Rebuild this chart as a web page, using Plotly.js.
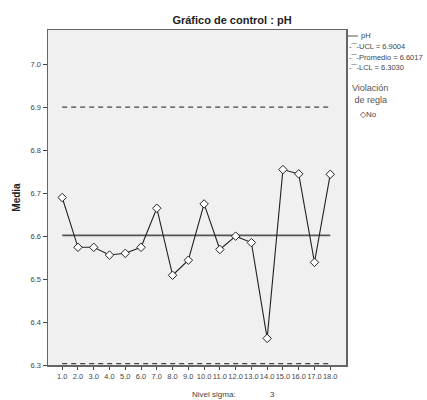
<!DOCTYPE html>
<html><head><meta charset="utf-8">
<script src="https://cdn.plot.ly/plotly-3.0.1.min.js"></script>
<style>html,body{margin:0;padding:0;background:#fff}#c{width:427px;height:400px}</style>
</head><body><div id="c"></div>
<script>
const samples = [1,2,3,4,5,6,7,8,9,10,11,12,13,14,15,16,17,18];
const tickLabels = samples.map(v => v.toFixed(1));
const phMeans = [6.690,6.574,6.574,6.556,6.560,6.574,6.665,6.509,6.544,6.675,6.569,6.600,6.585,6.362,6.755,6.745,6.539,6.744];
const UCL = 6.9004, CL = 6.6017, LCL = 6.3030;
const yTicks = [6.3,6.4,6.5,6.6,6.7,6.8,6.9,7.0];

const xEnds = [samples[0], samples[samples.length-1]];
const traces = [
  {x:xEnds, y:[UCL,UCL], mode:'lines', line:{color:'#444', width:1.3, dash:'5px,4px'}, hoverinfo:'skip'},
  {x:xEnds, y:[LCL,LCL], mode:'lines', line:{color:'#444', width:1.3, dash:'5px,4px'}, hoverinfo:'skip'},
  {x:xEnds, y:[CL,CL], mode:'lines', line:{color:'#555', width:1.6}, hoverinfo:'skip'},
  {x:samples, y:phMeans, mode:'lines+markers', line:{color:'#222', width:1.1},
   marker:{symbol:'diamond', size:6.5, color:'#fff', line:{color:'#222', width:1}}}
];
const f = 'Liberation Sans, Arial, sans-serif';
const py = px => (400 - px - 35) / 335;
const layout = {
  width:427, height:400, showlegend:false,
  paper_bgcolor:'#fff', plot_bgcolor:'#f0f0f0',
  margin:{l:48, r:81, t:30, b:35},
  font:{family:f, color:'#444', size:7},
  title:{text:'<b>Gráfico de control : pH</b>', x:232/427, xanchor:'center', y:0.95, yanchor:'middle', font:{family:f, size:11, color:'#222'}},
  xaxis:{range:[0.1,19.0], tickvals:samples, ticktext:tickLabels, tickangle:0, ticks:'outside', ticklen:3, tickcolor:'#444',
    showline:true, linecolor:'#666', linewidth:1.5, mirror:true, showgrid:false, zeroline:false, tickfont:{family:f, size:7.5, color:'#444'}},
  yaxis:{range:[6.3,7.08], tickvals:yTicks, tickformat:'.1f', ticks:'outside', ticklen:4, tickcolor:'#444',
    showline:true, linecolor:'#666', linewidth:1.5, mirror:true, showgrid:false, zeroline:false, tickfont:{family:f, size:7.5, color:'#444'},
    title:{text:'<b>Media</b>', font:{family:f, size:10, color:'#222'}, standoff:8}},
  shapes:[
    {type:'line', xref:'paper', yref:'paper', x0:1.005, x1:1.04, y0:py(36), y1:py(36), line:{color:'#555', width:1}}
  ],
  annotations:[
    {xref:'paper', yref:'paper', x:1.045, y:py(36), xanchor:'left', yanchor:'middle', text:'pH', showarrow:false, font:{size:7.5,color:'#444'}},
    {xref:'paper', yref:'paper', x:1.005, y:py(46), xanchor:'left', yanchor:'middle', text:'-‾‾-UCL = 6.9004', showarrow:false, font:{size:7.5,color:'#444'}},
    {xref:'paper', yref:'paper', x:1.005, y:py(57), xanchor:'left', yanchor:'middle', text:'-‾‾-Promedio = 6.6017', showarrow:false, font:{size:7.5,color:'#444'}},
    {xref:'paper', yref:'paper', x:1.005, y:py(68), xanchor:'left', yanchor:'middle', text:'-‾‾-LCL = 6.3030', showarrow:false, font:{size:7.5,color:'#444'}},
    {xref:'paper', yref:'paper', x:1.015, y:py(94), xanchor:'left', yanchor:'middle', align:'left', text:'Violación<br> de regla', showarrow:false, font:{size:9,color:'#555'}},
    {xref:'paper', yref:'paper', x:1.04, y:py(114), xanchor:'left', yanchor:'middle', text:'◇No', showarrow:false, font:{size:8,color:'#444'}},
    {xref:'paper', yref:'paper', x:(214-48)/298, y:py(394), xanchor:'center', yanchor:'middle', text:'Nivel sigma:', showarrow:false, font:{size:8,color:'#444'}},
    {xref:'paper', yref:'paper', x:(272-48)/298, y:py(394), xanchor:'center', yanchor:'middle', text:'3', showarrow:false, font:{size:8,color:'#444'}}
  ]
};
Plotly.newPlot('c', traces, layout, {displayModeBar:false, staticPlot:true});
</script></body></html>
